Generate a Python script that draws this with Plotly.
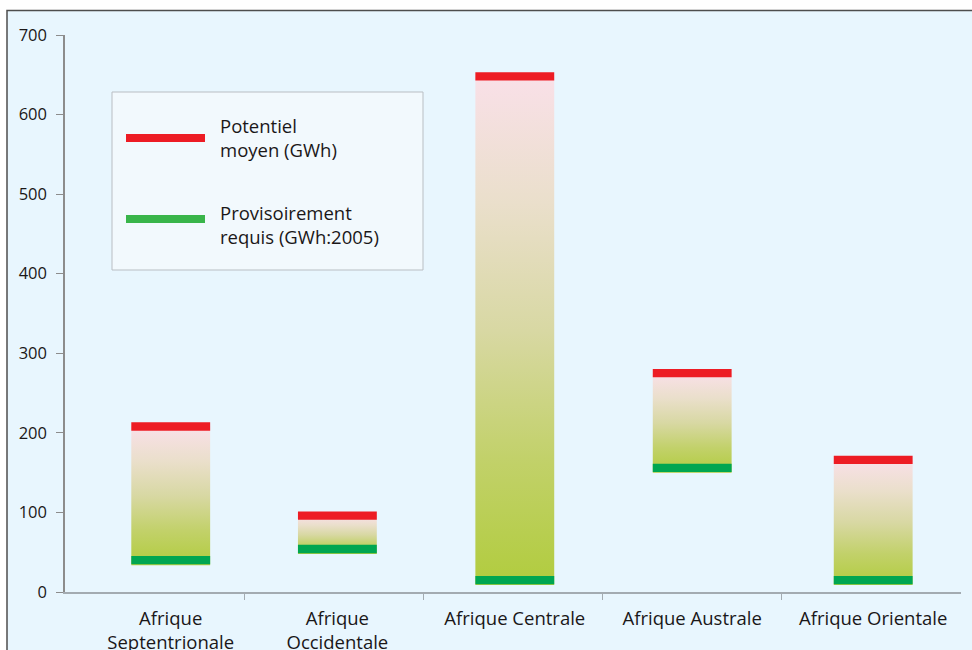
import plotly.graph_objects as go

# Régions et valeurs (GWh)
regions = ["Afrique<br>Septentrionale", "Afrique<br>Occidentale", "Afrique Centrale",
           "Afrique Australe", "Afrique Orientale"]
potentiel_moyen = [208, 96, 648, 275, 166]
requis_2005 = [40, 54, 15, 156, 15]
y_ticks = [0, 100, 200, 300, 400, 500, 600, 700]

RED = "#ED1C24"
GREEN_BAR = "#00A651"
GREEN_LEG = "#39B54A"
BAR_W = 0.44
BAND = 10.5  # épaisseur des repères, en GWh
# décalage horizontal de chaque colonne dans sa case
CENTER_SHIFT = [0.09, 0.02, 0.01, 0.0, 0.01]

gradient = [[0.0, "#B1CC3E"], [0.25, "#C2D16A"], [0.5, "#D8D8A3"],
            [0.75, "#EADFCB"], [1.0, "#F9E0E8"]]

centers = [i + s for i, s in enumerate(CENTER_SHIFT)]
fig = go.Figure()


def rect(c, lo, hi):
    x0, x1 = c - BAR_W / 2, c + BAR_W / 2
    return [x0, x1, x1, x0, x0], [lo, lo, hi, hi, lo]


# Barres en dégradé entre le besoin et le potentiel
for c, p, r in zip(centers, potentiel_moyen, requis_2005):
    xs, ys = rect(c, r - BAND / 2 - 1, p)
    fig.add_trace(go.Scatter(
        x=xs, y=ys, mode="none", fill="toself",
        fillgradient=dict(type="vertical", colorscale=gradient),
        hoverinfo="skip", showlegend=False))


def bands(values, color, name):
    xs, ys = [], []
    for c, v in zip(centers, values):
        bx, by = rect(c, v - BAND / 2, v + BAND / 2)
        xs += bx + [None]
        ys += by + [None]
    fig.add_trace(go.Scatter(x=xs, y=ys, mode="none", fill="toself",
                             fillcolor=color, name=name, showlegend=False))


bands(potentiel_moyen, RED, "Potentiel moyen (GWh)")
bands(requis_2005, GREEN_BAR, "Provisoirement requis (GWh:2005)")

# Repères de pixels de la zone de tracé
L, R, T, B = 65, 961, 35, 592


def px(x):
    return (x - L) / (R - L)


def py(y):
    return (B - y) / (B - T)


shapes = [
    # cadre extérieur
    dict(type="rect", xref="paper", yref="paper", x0=px(7), x1=px(990),
         y0=py(680), y1=py(10.5), fillcolor="#E8F6FE",
         line=dict(color="#4D4D4D", width=1.5), layer="below"),
    # légende
    dict(type="rect", xref="paper", yref="paper", x0=px(112), x1=px(423),
         y0=py(270), y1=py(92), fillcolor="#F2F9FD",
         line=dict(color="#B9BEC3", width=1), layer="below"),
    dict(type="line", xref="paper", yref="paper", x0=px(126), x1=px(205),
         y0=py(138), y1=py(138), line=dict(color=RED, width=8)),
    dict(type="line", xref="paper", yref="paper", x0=px(126), x1=px(205),
         y0=py(219), y1=py(219), line=dict(color=GREEN_LEG, width=8)),
]

font_txt = dict(family="Open Sans, Noto Sans, sans-serif", size=18.5, color="#1A1718")
annotations = [
    dict(xref="paper", yref="paper", x=px(218), y=py(137), xanchor="left",
         yanchor="middle", align="left", showarrow=False,
         text="Potentiel<br>moyen (GWh)", font=font_txt),
    dict(xref="paper", yref="paper", x=px(218), y=py(224.5), xanchor="left",
         yanchor="middle", align="left", showarrow=False,
         text="Provisoirement<br>requis (GWh:2005)", font=font_txt),
]

fig.update_layout(
    width=972, height=650,
    margin=dict(l=L, r=972 - R, t=T, b=650 - B),
    paper_bgcolor="white",
    plot_bgcolor="rgba(0,0,0,0)",
    showlegend=False,
    shapes=shapes,
    annotations=annotations,
    xaxis=dict(
        range=[-0.5, 4.5], tickmode="array", tickvals=centers, ticktext=regions,
        ticks="", showgrid=False, zeroline=False, automargin=False,
        showline=True, linecolor="#A3ABB1", linewidth=1.5,
        tickfont=font_txt, ticklabelstandoff=9,
        minor=dict(tickmode="array", tickvals=[0.5, 1.5, 2.5, 3.5],
                   ticks="outside", ticklen=6, tickcolor="#A3ABB1",
                   tickwidth=1, showgrid=False),
    ),
    yaxis=dict(
        range=[0, 700], tickmode="array", tickvals=y_ticks,
        ticks="outside", ticklen=7, tickcolor="#8C8C8C", tickwidth=1,
        showgrid=False, zeroline=False, automargin=False,
        showline=True, linecolor="#8C8C8C", linewidth=1.5,
        tickfont=dict(family="Open Sans, Noto Sans, sans-serif", size=16.5,
                      color="#1A1718"),
        ticklabelstandoff=6,
    ),
)

fig.write_html("out.html")
